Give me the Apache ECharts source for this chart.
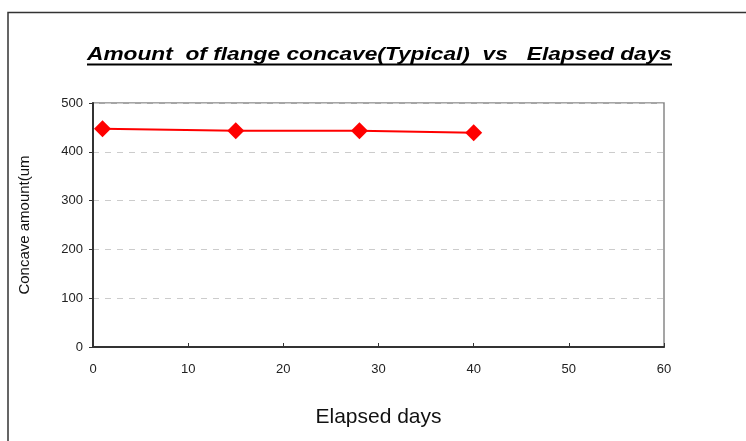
<!DOCTYPE html>
<html><head><meta charset="utf-8">
<script src="https://cdn.jsdelivr.net/npm/echarts@6/dist/echarts.min.js"></script>
<style>html,body{margin:0;padding:0;background:#fff}#c{width:746px;height:441px}</style>
</head><body><div id="c"></div>
<script>
const days = [1, 15, 28, 40];
const concave = [447, 443, 443, 439];
const xTicks = [0, 10, 20, 30, 40, 50, 60];
const yTicks = [0, 100, 200, 300, 400, 500];
const titleText = 'Amount  of flange concave(Typical)  vs   Elapsed days';
const xName = 'Elapsed days';
const yName = 'Concave amount(um';

const titleFont = 'italic bold 18.5px "Liberation Sans", Arial';
const mctx = document.createElement('canvas').getContext('2d');
mctx.font = titleFont;
const titleW = mctx.measureText(titleText).width;
const titleScale = 585 / titleW;

const chart = echarts.init(document.getElementById('c'), null, {renderer: 'canvas'});
chart.setOption({
  animation: false,
  backgroundColor: '#fff',
  graphic: [
    {type: 'polyline', shape: {points: [[8, 441], [8, 12.5], [746, 12.5]]}, style: {stroke: '#333', lineWidth: 1.5, fill: null}},
    {type: 'text', x: 379.5, y: 64, scaleX: titleScale, scaleY: 1,
      style: {text: titleText, x: 0, y: 0, font: titleFont, fill: '#000', textAlign: 'center', textVerticalAlign: 'bottom'}},
    {type: 'line', shape: {x1: 87, y1: 64.5, x2: 672, y2: 64.5}, style: {stroke: '#000', lineWidth: 2}}
  ],
  grid: {left: 93, top: 103, right: 82, bottom: 94, show: true, borderColor: '#888', borderWidth: 1.5, backgroundColor: 'transparent'},
  xAxis: {
    type: 'value', min: xTicks[0], max: xTicks[xTicks.length - 1], interval: 10,
    name: xName, nameLocation: 'middle', nameGap: 60,
    nameTextStyle: {fontFamily: 'Liberation Sans, Arial', fontSize: 21, color: '#111'},
    axisLine: {lineStyle: {color: '#333', width: 2}},
    axisTick: {show: true, inside: true, length: 4, lineStyle: {color: '#333', width: 1}},
    axisLabel: {margin: 16, fontFamily: 'Liberation Sans, Arial', fontSize: 13, color: '#222'},
    splitLine: {show: false}
  },
  yAxis: {
    type: 'value', min: yTicks[0], max: yTicks[yTicks.length - 1], interval: 100,
    name: yName, nameLocation: 'middle', nameGap: 61, nameRotate: 90,
    nameTextStyle: {fontFamily: 'Liberation Sans, Arial', fontSize: 15, color: '#111'},
    axisLine: {show: true, lineStyle: {color: '#333', width: 2}},
    axisTick: {show: true, inside: false, length: 4, lineStyle: {color: '#333', width: 1}},
    axisLabel: {margin: 10, fontFamily: 'Liberation Sans, Arial', fontSize: 13, color: '#222'},
    splitLine: {show: true, lineStyle: {color: '#ccc', type: [6, 6], width: 1}}
  },
  series: [{
    type: 'line', data: days.map((d, i) => [d, concave[i]]),
    symbol: 'diamond', symbolSize: 17, showAllSymbol: true,
    lineStyle: {color: '#ff0000', width: 2},
    itemStyle: {color: '#ff0000'}
  }]
});
</script></body></html>
